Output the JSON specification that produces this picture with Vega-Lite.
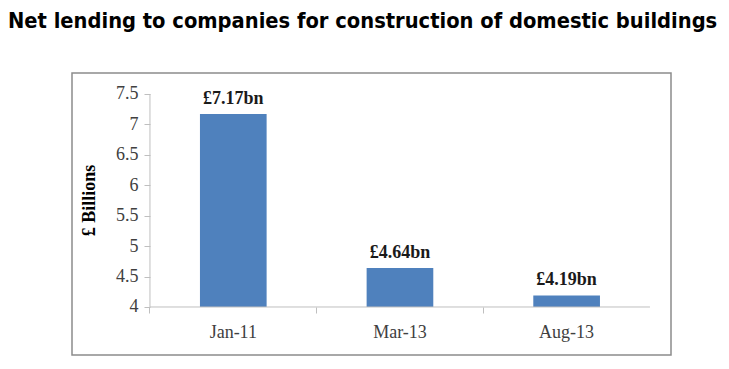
{
  "$schema": "https://vega.github.io/schema/vega-lite/v6.json",
  "width": 599,
  "height": 282,
  "autosize": "none",
  "padding": {"left": 72, "top": 73, "right": 58, "bottom": 14},
  "background": "white",
  "title": {
    "text": "Net lending to companies for construction of domestic buildings",
    "anchor": "start",
    "frame": "group",
    "dx": -64,
    "offset": 23,
    "baseline": "alphabetic",
    "font": "DejaVu Sans Condensed",
    "fontSize": 21.7,
    "fontWeight": "bold",
    "color": "#000000"
  },
  "config": {
    "view": {"stroke": "#8c8c8c", "strokeWidth": 1.5},
    "axis": {"grid": false}
  },
  "data": {
    "values": [
      {"period": "Jan-11", "value": 7.17, "label": "£7.17bn"},
      {"period": "Mar-13", "value": 4.64, "label": "£4.64bn"},
      {"period": "Aug-13", "value": 4.19, "label": "£4.19bn"}
    ]
  },
  "layer": [
    {
      "mark": {"type": "bar", "color": "#4F81BD"},
      "encoding": {
        "x": {
          "field": "period",
          "type": "nominal",
          "sort": null,
          "scale": {"paddingInner": 0.6, "paddingOuter": 0.597, "align": 0.643},
          "axis": {
            "title": null,
            "orient": "bottom",
            "offset": -48,
            "domain": false,
            "bandPosition": -0.75,
            "labelAngle": 0,
            "labelFont": "Liberation Serif",
            "labelFontSize": 18,
            "labelColor": "#404040",
            "labelPadding": 10,
            "tickColor": "#bfbfbf",
            "tickSize": 6
          }
        },
        "y": {
          "field": "value",
          "type": "quantitative",
          "scale": {"domain": [3.211, 7.845], "nice": false, "zero": false},
          "axis": {
            "values": [4, 4.5, 5, 5.5, 6, 6.5, 7, 7.5],
            "format": "~g",
            "offset": -78,
            "domain": false,
            "labelFont": "Liberation Serif",
            "labelFontSize": 18,
            "labelColor": "#404040",
            "labelPadding": 6,
            "tickColor": "#bfbfbf",
            "tickSize": 6,
            "title": "£ Billions",
            "titleFont": "Liberation Serif",
            "titleFontSize": 18,
            "titleFontWeight": "bold",
            "titleColor": "#000000",
            "titlePadding": 17,
            "titleY": 127
          }
        },
        "y2": {"datum": 4}
      }
    },
    {
      "mark": {"type": "text", "baseline": "alphabetic", "dy": -10, "font": "Liberation Serif", "fontSize": 18, "fontWeight": "bold", "color": "#1a1a1a"},
      "encoding": {
        "x": {"field": "period", "type": "nominal", "sort": null},
        "y": {"field": "value", "type": "quantitative"},
        "text": {"field": "label"}
      }
    },
    {
      "mark": {"type": "rule", "color": "#bfbfbf", "strokeWidth": 1},
      "data": {"values": [{"a": 1}]},
      "encoding": {
        "x": {"datum": "Jan-11", "bandPosition": -0.75},
        "y": {"datum": 4},
        "y2": {"datum": 7.5}
      }
    },
    {
      "mark": {"type": "rule", "color": "#bfbfbf", "strokeWidth": 1},
      "data": {"values": [{"a": 1}]},
      "encoding": {
        "x": {"datum": "Jan-11", "bandPosition": -0.75},
        "x2": {"datum": "Aug-13", "bandPosition": 1.75},
        "y": {"datum": 4}
      }
    }
  ]
}
